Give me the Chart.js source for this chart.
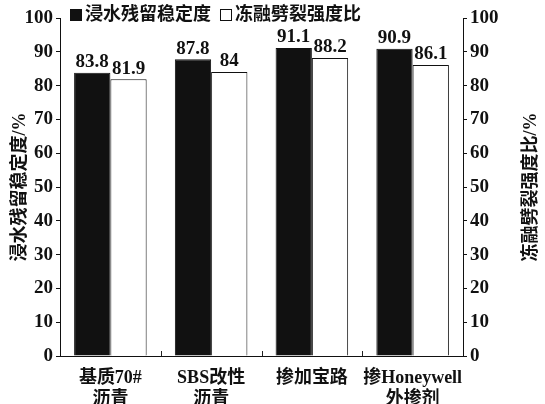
<!DOCTYPE html>
<html><head><meta charset="utf-8">
<script src="https://cdn.jsdelivr.net/npm/chart.js@4/dist/chart.umd.min.js"></script>
<style>html,body{margin:0;padding:0;background:#fff}#wrap{width:545px;height:404px}</style>
</head><body><div id="wrap"><canvas id="c" width="545" height="404"></canvas></div>
<script>
const categories = [["基质70#","沥青"],["SBS改性","沥青"],"掺加宝路",["掺Honeywell","外掺剂"]];
const seriesNames = ["浸水残留稳定度","冻融劈裂强度比"];
const immersionStability = [83.8, 87.8, 91.1, 90.9];
const freezeThawRatio = [81.9, 84, 88.2, 86.1];
const leftTitle = "浸水残留稳定度/%";
const rightTitle = "冻融劈裂强度比/%";
const yMin = 0, yMax = 100, yStep = 10;

const FONT = "'Liberation Serif', 'Noto Sans CJK SC', serif";

const extras = {
  id: 'extras',
  afterDatasetsDraw(chart) {
    const ctx = chart.ctx;
    const area = chart.chartArea;
    // value labels
    ctx.save();
    ctx.fillStyle = '#111';
    ctx.font = "bold 19px " + FONT;
    ctx.textAlign = 'center';
    ctx.textBaseline = 'bottom';
    chart.data.datasets.forEach((ds, di) => {
      const meta = chart.getDatasetMeta(di);
      meta.data.forEach((bar, i) => {
        ctx.fillText(String(ds.data[i]), bar.x, bar.y - 1);
      });
    });
    // category boundary ticks (inward)
    const xs = chart.scales.x;
    ctx.strokeStyle = '#222';
    ctx.lineWidth = 1;
    for (let i = 1; i < categories.length; i++) {
      const x = Math.round((xs.getPixelForValue(i - 1) + xs.getPixelForValue(i)) / 2) + 0.5;
      ctx.beginPath();
      ctx.moveTo(x, area.bottom);
      ctx.lineTo(x, area.bottom - 5);
      ctx.stroke();
    }
    // axis titles (both read bottom to top)
    ctx.font = "bold 18px " + FONT;
    ctx.textAlign = 'center';
    ctx.textBaseline = 'middle';
    const cy = (area.top + area.bottom) / 2;
    [[20, leftTitle], [531, rightTitle]].forEach(([tx, t]) => {
      ctx.save();
      ctx.translate(tx, cy);
      ctx.rotate(-Math.PI / 2);
      ctx.fillText(t, 0, 0);
      ctx.restore();
    });
    // legend
    ctx.font = "bold 18px " + FONT;
    ctx.textAlign = 'left';
    ctx.textBaseline = 'middle';
    let lx = 70; const ly = 15;
    chart.data.datasets.forEach((ds, di) => {
      ctx.fillStyle = ds.backgroundColor;
      ctx.fillRect(lx + 0.5, ly - 5.5, 11, 11);
      ctx.strokeStyle = '#111';
      ctx.strokeRect(lx + 0.5, ly - 5.5, 11, 11);
      ctx.fillStyle = '#111';
      ctx.fillText(ds.label, lx + 15, ly);
      lx += 15 + ctx.measureText(ds.label).width + 9;
    });
    ctx.restore();
  }
};

new Chart(document.getElementById('c'), {
  type: 'bar',
  data: {
    labels: categories,
    datasets: [
      { label: seriesNames[0], data: immersionStability, backgroundColor: '#111111', borderColor: '#111111', borderWidth: 1, yAxisID: 'y' },
      { label: seriesNames[1], data: freezeThawRatio, backgroundColor: '#ffffff', borderColor: '#111111', borderWidth: 1, yAxisID: 'y' }
    ]
  },
  options: {
    responsive: false,
    animation: false,
    devicePixelRatio: 1,
    layout: { padding: { top: 18, left: 0, right: 0, bottom: 0 } },
    datasets: { bar: { categoryPercentage: 0.72, barPercentage: 1.0 } },
    plugins: { legend: { display: false }, tooltip: { enabled: false } },
    scales: {
      x: {
        grid: { display: false },
        border: { display: true, color: '#111', width: 1 },
        ticks: { color: '#111', font: { family: FONT, size: 18, weight: 'bold', lineHeight: 1.15 }, maxRotation: 0, autoSkip: false, padding: 4 },
        afterFit(s) { s.height = 48; }
      },
      y: {
        position: 'left', min: yMin, max: yMax,
        ticks: { stepSize: yStep, color: '#111', font: { family: FONT, size: 19, weight: 'bold' }, padding: 3 },
        grid: { drawOnChartArea: false, tickLength: 4, color: '#111' },
        border: { display: true, color: '#111', width: 1 },
        afterFit(s) { s.width = 60; }
      },
      y1: {
        position: 'right', min: yMin, max: yMax,
        ticks: { stepSize: yStep, color: '#111', font: { family: FONT, size: 19, weight: 'bold' }, padding: 3 },
        grid: { drawOnChartArea: false, tickLength: 4, color: '#111' },
        border: { display: true, color: '#111', width: 1 },
        afterFit(s) { s.width = 82; }
      }
    }
  },
  plugins: [extras]
});
</script></body></html>
